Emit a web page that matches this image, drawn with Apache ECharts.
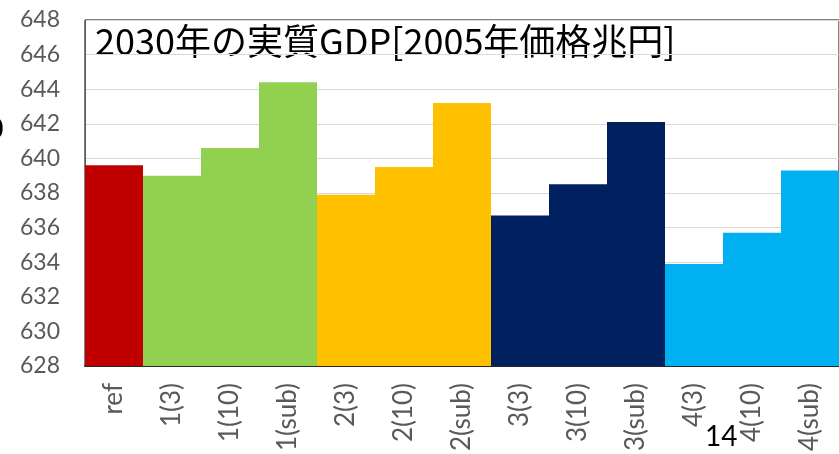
<!DOCTYPE html>
<html>
<head>
<meta charset="utf-8">
<script src="https://cdn.jsdelivr.net/npm/echarts@6/dist/echarts.min.js"></script>
<style>
  html, body { margin: 0; padding: 0; background: #fff; }
  #main { width: 839px; height: 454px; }
</style>
</head>
<body>
<div id="main"></div>
<script>
// ケース名とGDP値
var categories = ['ref', '1(3)', '1(10)', '1(sub)', '2(3)', '2(10)', '2(sub)', '3(3)', '3(10)', '3(sub)', '4(3)', '4(10)', '4(sub)'];
var gdpValues = [639.6, 639.0, 640.6, 644.4, 637.9, 639.5, 643.2, 636.7, 638.5, 642.1, 633.9, 635.7, 639.3];
var barColors = ['#C00000', '#92D050', '#92D050', '#92D050', '#FFC000', '#FFC000', '#FFC000', '#002060', '#002060', '#002060', '#00B0F0', '#00B0F0', '#00B0F0'];
var yTicks = [628, 648, 2];

var myChart = echarts.init(document.getElementById('main'));
var option = {
    animation: false,
    grid: {
        left: 85,
        top: 20,
        right: -4,
        bottom: 87,
        show: true,
        borderColor: '#000',
        borderWidth: 1
    },
    xAxis: {
        type: 'category',
        data: categories,
        boundaryGap: true,
        axisLine: { lineStyle: { color: '#262626', width: 2 } },
        axisTick: { show: true, inside: true, length: 7, lineStyle: { color: '#000', width: 1 } },
        axisLabel: {
            rotate: 90,
            margin: 17,
            color: '#595959',
            fontSize: 26,
            fontFamily: 'Lato'
        }
    },
    yAxis: {
        type: 'value',
        min: yTicks[0],
        max: yTicks[1],
        interval: yTicks[2],
        axisLine: { show: true, lineStyle: { color: '#595959' } },
        axisTick: { show: false },
        splitLine: { lineStyle: { color: '#D9D9D9', width: 1 } },
        axisLabel: {
            margin: 25,
            color: '#595959',
            fontSize: 23,
            fontFamily: 'Lato'
        }
    },
    series: [{
        type: 'bar',
        barCategoryGap: 0,
        data: gdpValues.map(function (v, i) {
            return { value: v, itemStyle: { color: barColors[i] } };
        })
    }],
    graphic: [
        {
            type: 'text',
            left: 95,
            top: 23,
            style: {
                text: '2030年の実質GDP[2005年価格兆円]',
                font: '36px "Noto Sans CJK JP"',
                fill: '#000'
            }
        },
        {
            type: 'text',
            left: 705,
            top: 423,
            style: { text: '14', font: '28px Lato', fill: '#000' }
        },
        {
            type: 'text',
            left: -14,
            top: 114,
            style: { text: '0', font: 'bold 30px Lato', fill: '#000' }
        },
        {
            type: 'text',
            left: -6,
            top: 22,
            style: { text: '-', font: '16px Lato', fill: '#333' }
        }
    ]
};
myChart.setOption(option);
</script>
</body>
</html>
